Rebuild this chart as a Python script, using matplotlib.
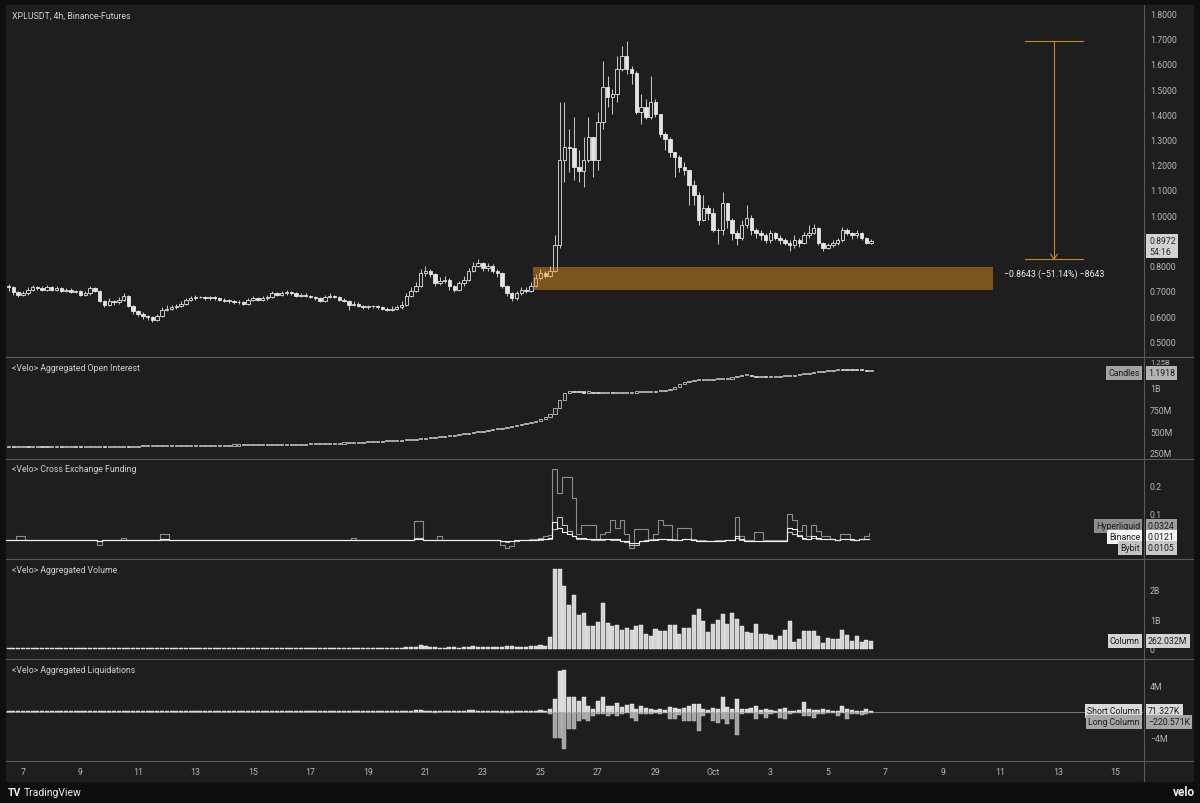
import numpy as np
import matplotlib.pyplot as plt
from matplotlib.patches import Rectangle

plt.rcParams['font.family'] = ['Roboto', 'DejaVu Sans']

# 4h bars, first bar Sep 6 12:00. x axis in days of September (Oct 1 = 31)
first_day = 6.5
bar_step = 1 / 6
first_open = 0.72

closes = [
    0.715, 0.695, 0.685, 0.69, 0.705, 0.715, 0.71, 0.705, 0.715, 0.705, 0.71, 0.70,
    0.705, 0.695, 0.70, 0.685, 0.69, 0.71, 0.70, 0.66, 0.645, 0.66, 0.655, 0.665,
    0.68, 0.64, 0.62, 0.61, 0.60, 0.595, 0.585, 0.60, 0.625, 0.63, 0.635, 0.64,
    0.65, 0.665, 0.67, 0.675, 0.675, 0.67, 0.675, 0.67, 0.665, 0.66, 0.66, 0.655,
    0.655, 0.65, 0.665, 0.67, 0.665, 0.67, 0.675, 0.69, 0.685, 0.69, 0.695, 0.69,
    0.68, 0.685, 0.68, 0.675, 0.67, 0.66, 0.675, 0.68, 0.675, 0.665, 0.66, 0.645,
    0.65, 0.64, 0.635, 0.64, 0.64, 0.635, 0.63, 0.625, 0.63, 0.635, 0.645, 0.68,
    0.70, 0.72, 0.77, 0.78, 0.765, 0.73, 0.74, 0.745, 0.72, 0.705, 0.73, 0.745,
    0.78, 0.80, 0.81, 0.79, 0.80, 0.78, 0.77, 0.72, 0.69, 0.67, 0.69, 0.705,
    0.70, 0.72, 0.75, 0.77, 0.76, 0.78, 0.88, 1.22, 1.27, 1.265, 1.19, 1.175,
    1.22, 1.31, 1.22, 1.37, 1.51, 1.47, 1.48, 1.58, 1.63, 1.58, 1.565, 1.41,
    1.43, 1.39, 1.45, 1.40, 1.32, 1.30, 1.25, 1.23, 1.19, 1.18, 1.12, 1.08,
    0.98, 1.03, 1.01, 0.94, 0.94, 1.05, 0.98, 0.93, 0.91, 0.96, 0.99, 0.94,
    0.93, 0.92, 0.90, 0.93, 0.91, 0.90, 0.89, 0.88, 0.90, 0.89, 0.92, 0.93,
    0.95, 0.89, 0.87, 0.88, 0.89, 0.90, 0.94, 0.93, 0.92, 0.93, 0.91, 0.89,
    0.8972,
]
highs = [
    .728, .72, .70, .70, .715, .725, .72, .72, .725, .72, .718, .715,
    .712, .71, .705, .705, .70, .72, .715, .705, .665, .67, .665, .675,
    .69, .685, .645, .625, .615, .605, .60, .61, .635, .645, .645, .65,
    .66, .67, .68, .685, .68, .68, .68, .68, .675, .67, .668, .665,
    .662, .66, .672, .678, .675, .678, .685, .70, .695, .70, .705, .70,
    .695, .69, .69, .685, .68, .675, .685, .69, .685, .68, .67, .665,
    .66, .655, .645, .645, .645, .645, .64, .635, .64, .645, .66, .69,
    .715, .735, .785, .80, .785, .77, .755, .76, .75, .725, .74, .76,
    .79, .815, .825, .815, .81, .805, .785, .775, .725, .695, .70, .715,
    .715, .735, .765, .785, .78, .80, .92, 1.45, 1.45, 1.34, 1.39, 1.26,
    1.31, 1.39, 1.31, 1.41, 1.61, 1.55, 1.50, 1.63, 1.67, 1.69, 1.59, 1.57,
    1.48, 1.46, 1.55, 1.46, 1.40, 1.33, 1.31, 1.25, 1.24, 1.21, 1.18, 1.14,
    1.09, 1.08, 1.04, 1.03, 0.95, 1.09, 1.05, 0.99, 0.94, 0.98, 1.04, 1.00,
    .95, .94, .93, .94, .935, .92, .91, .90, .92, .91, .935, .96,
    .965, .955, .895, .89, .90, .91, .955, .95, .935, .94, .935, .915,
    .905,
]
lows = [
    .70, .685, .675, .68, .685, .70, .705, .70, .70, .70, .70, .695,
    .695, .69, .69, .68, .68, .685, .695, .655, .635, .64, .645, .65,
    .66, .635, .61, .60, .59, .585, .575, .58, .595, .62, .625, .63,
    .635, .645, .66, .665, .67, .665, .665, .665, .66, .655, .652, .65,
    .648, .645, .645, .66, .66, .66, .665, .67, .68, .68, .685, .685,
    .675, .675, .675, .67, .665, .655, .655, .67, .67, .66, .655, .625,
    .64, .635, .63, .63, .632, .63, .625, .62, .62, .625, .63, .64,
    .675, .695, .715, .76, .755, .72, .725, .73, .705, .695, .70, .72,
    .74, .775, .795, .78, .78, .77, .755, .71, .68, .66, .665, .685,
    .69, .695, .715, .745, .75, .755, .775, .87, 1.13, 1.17, 1.14, 1.13,
    1.11, 1.21, 1.15, 1.18, 1.34, 1.43, 1.40, 1.45, 1.57, 1.56, 1.52, 1.40,
    1.36, 1.38, 1.38, 1.39, 1.31, 1.26, 1.23, 1.15, 1.17, 1.16, 1.04, 1.04,
    0.96, 0.975, 0.98, 0.935, 0.885, 0.92, 0.95, 0.90, 0.88, 0.90, 0.95, 0.92,
    .91, .90, .89, .89, .90, .885, .88, .86, .87, .875, .885, .91,
    .925, .88, .86, .865, .875, .88, .895, .92, .905, .91, .90, .885,
    .885,
]

# aggregated open interest (billions)
oi = [
    .318, .317, .318, .319, .318, .318, .319, .318, .317, .318, .319, .318,
    .318, .319, .318, .317, .318, .319, .320, .321, .320, .321, .322, .322,
    .323, .322, .323, .324, .325, .326, .326, .327, .327, .328, .328, .329,
    .329, .330, .331, .331, .332, .332, .333, .333, .334, .334, .335, .335,
    .336, .337, .337, .338, .339, .339, .340, .341, .341, .342, .343, .344,
    .345, .346, .347, .348, .349, .350, .352, .354, .356, .358, .360, .362,
    .365, .368, .370, .372, .375, .378, .381, .384, .387, .390, .393, .397,
    .401, .406, .412, .418, .423, .428, .433, .440, .447, .455, .463, .470,
    .478, .486, .494, .502, .510, .519, .528, .537, .546, .556, .566, .578,
    .590, .605, .620, .640, .665, .700, .760, .850, .930, .955, .950, .945,
    .940, .940, .935, .930, .935, .935, .930, .930, .935, .935, .940, .945,
    .945, .950, .950, .955, .960, .970, .985, 1.000, 1.040, 1.065, 1.075, 1.080,
    1.080, 1.085, 1.085, 1.090, 1.090, 1.095, 1.100, 1.115, 1.130, 1.140, 1.145, 1.130,
    1.120, 1.120, 1.115, 1.115, 1.120, 1.125, 1.130, 1.130, 1.140, 1.150, 1.155, 1.165,
    1.170, 1.175, 1.185, 1.190, 1.195, 1.200, 1.198, 1.196, 1.195, 1.193, 1.192, 1.190,
    1.1918,
]

# funding rates per exchange
fund_hl = [
    .008, .008, .02, .02, .008, .008, .008, .008, .008, .008, .008, .008,
    .008, .008, .008, .008, .008, .008, .008, -.012, .008, .008, .008, .008,
    .015, .008, .008, .008, .008, .008, .008, .008, .03, .03, .008, .008,
    .008, .008, .008, .008, .008, .008, .008, .008, .008, .008, .008, .008,
    .008, .008, .008, .008, .008, .008, .008, .008, .008, .008, .008, .008,
    .008, .008, .008, .008, .008, .008, .008, .008, .008, .008, .008, .008,
    .015, .008, .008, .008, .008, .008, .008, .008, .008, .008, .008, .008,
    .008, .075, .075, .008, .008, .008, .02, .008, .008, .008, .008, .008,
    .008, .008, .008, .008, .008, .008, .008, -.01, -.02, -.015, .005, .008,
    .008, .012, .01, .015, .02, .025, .26, .175, .23, .23, .157, .03,
    .06, .06, .06, .01, .03, .035, .08, .05, .08, .03, -.02, .045,
    .045, .045, .01, .03, .08, .06, .06, .01, .05, .05, .05, .01,
    .008, .008, .005, .005, .008, .008, .008, .008, .09, .02, .008, .008,
    .035, .035, .006, .006, .006, .006, .006, .10, .08, .04, .06, .02,
    .06, .04, .02, .02, .01, .008, .03, .03, .01, .008, .01, .02,
    .0324,
]
fund_binance = [
    .007, .007, .008, .008, .007, .007, .007, .007, .007, .007, .007, .007,
    .007, .007, .007, .007, .007, .007, .007, .005, .007, .007, .007, .007,
    .008, .007, .007, .007, .007, .007, .007, .007, .009, .009, .007, .007,
    .007, .007, .007, .007, .007, .007, .007, .007, .007, .007, .007, .007,
    .007, .007, .007, .007, .007, .007, .007, .007, .007, .007, .007, .007,
    .007, .007, .007, .007, .007, .007, .007, .007, .007, .007, .007, .007,
    .007, .007, .007, .007, .007, .007, .007, .007, .007, .007, .007, .007,
    .007, .012, .012, .008, .007, .007, .008, .007, .007, .007, .007, .007,
    .007, .007, .007, .007, .007, .007, .007, .004, .002, .003, .006, .007,
    .008, .008, .008, .01, .01, .015, .07, .05, .035, .03, .02, .015,
    .015, .012, .01, .01, .01, .012, .01, .01, .005, .005, -.005, -.005,
    .005, .005, .008, .008, .01, .01, .01, .008, .008, .01, .01, .008,
    .005, .005, .005, .005, .005, .005, .006, .006, .02, .01, .005, .005,
    .005, .005, .005, .005, .005, .005, .005, .05, .045, .02, .015, .01,
    .02, .015, .01, .01, .01, .008, .012, .01, .01, .008, .01, .012,
    .0121,
]
fund_bybit = [
    .006, .006, .007, .007, .006, .006, .006, .006, .006, .006, .006, .006,
    .006, .006, .006, .006, .006, .006, .006, .004, .006, .006, .006, .006,
    .007, .006, .006, .006, .006, .006, .006, .006, .008, .008, .006, .006,
    .006, .006, .006, .006, .006, .006, .006, .006, .006, .006, .006, .006,
    .006, .006, .006, .006, .006, .006, .006, .006, .006, .006, .006, .006,
    .006, .006, .006, .006, .006, .006, .006, .006, .006, .006, .006, .006,
    .006, .006, .006, .006, .006, .006, .006, .006, .006, .006, .006, .006,
    .006, .015, .015, .007, .006, .006, .007, .006, .006, .006, .006, .006,
    .006, .006, .006, .006, .006, .006, .006, .002, .0, .002, .005, .006,
    .008, .008, .008, .008, .01, .012, .045, .09, .06, .04, .02, .012,
    .01, .01, .008, .008, .008, .01, .008, .006, .004, .0, -.01, -.01,
    .005, .008, .008, .01, .012, .01, .008, .008, .008, .01, .01, .008,
    .005, .005, .004, .004, .005, .005, .006, .006, .015, .008, .005, .005,
    .005, .005, .005, .005, .005, .005, .005, .035, .03, .025, .012, .01,
    .015, .012, .01, .01, .01, .008, .01, .01, .008, .008, .01, .01,
    .0105,
]

# aggregated volume (billions)
volume = [
    .03, .02, .02, .02, .02, .03, .02, .02, .02, .02, .02, .02,
    .02, .02, .02, .02, .02, .03, .02, .04, .03, .02, .02, .02,
    .03, .04, .03, .03, .03, .02, .03, .03, .03, .02, .02, .02,
    .02, .02, .02, .02, .02, .02, .02, .02, .02, .02, .02, .02,
    .02, .02, .02, .02, .02, .02, .02, .02, .02, .02, .02, .02,
    .02, .02, .02, .02, .02, .02, .02, .02, .02, .02, .02, .03,
    .03, .03, .03, .03, .03, .03, .03, .03, .03, .03, .04, .06,
    .07, .08, .12, .09, .06, .07, .05, .05, .06, .06, .05, .06,
    .08, .09, .08, .07, .06, .06, .06, .08, .09, .10, .08, .07,
    .08, .11, .09, .14, .11, .40, 2.68, 2.70, 2.11, 1.49, 1.81, 1.16,
    1.22, .77, .77, .90, 1.55, .88, .76, .80, .64, .72, .63, .77,
    .81, .52, .45, .67, .62, .61, .81, .81, .50, .70, .72, 1.15,
    1.33, .94, .58, .85, .98, 1.19, .85, 1.22, 1.02, .76, .58, .53,
    .85, .51, .49, .47, .31, .43, .64, .93, .25, .34, .59, .59,
    .61, .45, .19, .36, .33, .32, .64, .47, .26, .44, .25, .29,
    .262,
]

# aggregated liquidations (millions)
liq_short = [
    .03, .02, .03, .02, .03, .02, .02, .03, .02, .02, .03, .02,
    .02, .03, .02, .03, .02, .05, .03, .08, .04, .03, .02, .03,
    .04, .06, .05, .04, .04, .03, .03, .05, .06, .04, .03, .03,
    .03, .04, .03, .02, .02, .02, .02, .02, .02, .02, .02, .02,
    .02, .02, .03, .02, .02, .02, .02, .03, .02, .02, .02, .02,
    .02, .02, .02, .02, .02, .02, .03, .02, .02, .02, .02, .02,
    .02, .02, .02, .02, .02, .02, .02, .02, .02, .03, .04, .08,
    .15, .20, .30, .15, .10, .10, .08, .10, .06, .05, .10, .12,
    .20, .18, .15, .10, .08, .06, .05, .05, .06, .08, .10, .08,
    .10, .12, .15, .20, .15, .37, 1.94, 6.40, 6.50, 2.35, 2.35, 1.67,
    2.35, .89, .37, 1.67, 2.20, .89, .89, 1.41, .78, .99, 1.15, .37,
    .89, .63, .37, .26, .47, .26, .78, .63, .47, .63, .89, 1.15,
    1.15, .37, .26, .63, .47, 2.35, .78, .47, 1.94, .47, .47, .63,
    .89, .26, .37, .26, .10, .37, .63, .10, .10, .26, 1.52, .47,
    .26, .26, .37, .26, .10, .07, .89, .37, .26, .10, .10, .37,
    .071,
]
liq_long = [
    -.03, -.02, -.03, -.02, -.02, -.03, -.02, -.02, -.03, -.02, -.02, -.02,
    -.02, -.02, -.03, -.02, -.02, -.02, -.03, -.06, -.05, -.03, -.02, -.03,
    -.03, -.07, -.06, -.05, -.05, -.04, -.05, -.03, -.02, -.02, -.02, -.02,
    -.02, -.02, -.02, -.02, -.02, -.02, -.02, -.02, -.02, -.02, -.02, -.02,
    -.02, -.02, -.02, -.02, -.02, -.02, -.02, -.02, -.02, -.02, -.02, -.02,
    -.02, -.02, -.02, -.02, -.02, -.03, -.02, -.02, -.02, -.02, -.03, -.05,
    -.03, -.03, -.03, -.02, -.02, -.02, -.03, -.03, -.02, -.02, -.02, -.02,
    -.03, -.04, -.05, -.06, -.10, -.15, -.08, -.06, -.10, -.12, -.05, -.04,
    -.04, -.04, -.05, -.08, -.06, -.10, -.12, -.20, -.25, -.20, -.08, -.06,
    -.08, -.06, -.05, -.06, -.10, -.42, -4.08, -4.08, -5.90, -2.77, -2.77, -1.46,
    -1.20, -1.46, -.68, -.42, -.42, -.68, -.42, -.68, -.42, -.16, -.94, -1.46,
    -.42, -.42, -.42, -.16, -.42, -.16, -1.20, -1.20, -.58, -1.46, -1.46, -1.46,
    -3.03, -.68, -.16, -1.46, -1.73, -1.20, -1.99, -1.20, -3.71, -.42, -.16, -.16,
    -1.20, -.42, -.94, -.42, -.26, -.94, -1.20, -.42, -.16, -.16, -.68, -.68,
    -.94, -.42, -.42, -.16, -.16, -.68, -.16, -1.10, -.42, -.42, -.58, -.42,
    -.2206,
]

tick_days = [7, 9, 11, 13, 15, 17, 19, 21, 23, 25, 27, 29, 31, 33, 35, 37, 39, 41, 43, 45]
tick_labels = ['7', '9', '11', '13', '15', '17', '19', '21', '23', '25', '27', '29',
               'Oct', '3', '5', '7', '9', '11', '13', '15']
price_ticks = [0.5, 0.6, 0.7, 0.8, 1.0, 1.1, 1.2, 1.3, 1.4, 1.5, 1.6, 1.7, 1.8]

# zone and measure drawn on the price pane
zone_days = (24.74, 40.74)
zone_prices = (0.703, 0.794)
measure_day = 42.86
measure_top = 1.6900
measure_bottom = 0.8257

BG = '#1e1e1e'
FG = '#e4e4e4'
TXT = '#b8b8b8'
GRID = '#5a5a5a'
FS = 6.3

n = len(closes)
x = first_day + bar_step * np.arange(n)
opens = [first_open] + closes[:-1]

fig = plt.figure(figsize=(12, 8.04), dpi=100, facecolor='#0e0e0e')

bg = fig.add_axes([0, 0, 1, 1], zorder=-5)
bg.set_xlim(0, 1200)
bg.set_ylim(804, 0)
bg.axis('off')
bg.add_patch(Rectangle((6, 6), 1187, 776, color=BG))


def pane(y_top, y_bot):
    ax = fig.add_axes([6 / 1200, 1 - y_bot / 804, 1137 / 1200, (y_bot - y_top) / 804])
    ax.set_facecolor(BG)
    for s in ax.spines.values():
        s.set_visible(False)
    ax.set_xlim(6.409, 45.957)
    ax.yaxis.tick_right()
    ax.tick_params(axis='y', length=0, pad=5, labelsize=FS, labelcolor=TXT)
    ax.tick_params(axis='x', length=0, labelbottom=False)
    return ax


def candles(ax, o, h, l, c, width, min_h, lw):
    for xi, oo, hh, ll, cc in zip(x, o, h, l, c):
        up = cc >= oo
        ax.vlines(xi, ll, hh, color=FG, lw=lw, zorder=2)
        body = max(abs(cc - oo), min_h)
        ax.bar(xi, body, bottom=min(oo, cc), width=width, zorder=3,
               facecolor=BG if up else FG, edgecolor=FG, linewidth=lw)


# price pane
ax_p = pane(6, 358)
ax_p.set_ylim(0.438, 1.833)
candles(ax_p, opens, highs, lows, closes, 0.12, 0.002, 0.6)
ax_p.set_yticks(price_ticks)
ax_p.set_yticklabels([f'{v:.4f}' for v in price_ticks])
ax_p.add_patch(Rectangle((zone_days[0], zone_prices[0]), zone_days[1] - zone_days[0],
                         zone_prices[1] - zone_prices[0], facecolor='#f0961e', alpha=0.45,
                         edgecolor='none', zorder=5))
mc = '#c8842e'
ax_p.plot([measure_day, measure_day], [measure_top, measure_bottom], color=mc, lw=0.8)
for yv in (measure_top, measure_bottom):
    ax_p.plot([measure_day - 1.0, measure_day + 1.0], [yv, yv], color=mc, lw=0.8)
ax_p.plot([measure_day - 0.12, measure_day, measure_day + 0.12],
          [measure_bottom + 0.02, measure_bottom, measure_bottom + 0.02], color=mc, lw=0.8)
ax_p.text(measure_day, measure_bottom - 0.055, '\u22120.8643 (\u221251.14%) \u22128643',
          ha='center', va='center', fontsize=FS, color='#f0f0f0')

# open interest
ax_oi = pane(358, 460)
ax_oi.set_ylim(0.181, 1.346)
oi_open = [oi[0]] + oi[:-1]
oi_high = [max(a, b) for a, b in zip(oi_open, oi)]
oi_low = [min(a, b) for a, b in zip(oi_open, oi)]
candles(ax_oi, oi_open, oi_high, oi_low, oi, 0.12, 0.012, 0.5)
ax_oi.set_yticks([0.25, 0.5, 0.75, 1.0, 1.25])
ax_oi.set_yticklabels(['250M', '500M', '750M', '1B', '1.25B'])
# top label sits just under the separator, above the value tag
ax_oi.get_yticklabels()[-1].set_va('bottom')
ax_oi.get_yticklabels()[-1].set_fontsize(5.6)

# funding
ax_f = pane(460, 560)
ax_f.set_ylim(-0.061, 0.296)
xe = x - bar_step / 2
ax_f.step(xe, fund_hl, where='post', color='#8c8c8c', lw=0.8)
ax_f.step(xe, fund_bybit, where='post', color='#bdbdbd', lw=0.8)
ax_f.step(xe, fund_binance, where='post', color='#f2f2f2', lw=0.8)
ax_f.set_yticks([0.1, 0.2])
ax_f.set_yticklabels(['0.1', '0.2'])

# volume
ax_v = pane(560, 660)
ax_v.set_ylim(-0.337, 3.03)
ax_v.bar(x, volume, width=0.14, color='#d4d4d4', edgecolor='#f2f2f2', linewidth=0.3)
ax_v.set_yticks([0, 1, 2])
ax_v.set_yticklabels(['0', '1B', '2B'])

# liquidations
ax_l = pane(660, 762)
ax_l.set_ylim(-7.7, 8.2)
ax_l.axhline(0, color='#8a8a8a', lw=0.6, zorder=1)
ax_l.bar(x, liq_short, width=0.14, color='#d8d8d8', edgecolor='#f0f0f0', linewidth=0.3, zorder=2)
ax_l.bar(x, liq_long, width=0.14, color='#a4a4a4', edgecolor='#c8c8c8', linewidth=0.3, zorder=2)
ax_l.set_yticks([4, -4])
ax_l.set_yticklabels(['4M', '\u22124M'])
ax_l.set_xticks(tick_days)
ax_l.set_xticklabels(tick_labels)
ax_l.tick_params(axis='x', labelbottom=True, length=0, pad=4.5, labelsize=FS, labelcolor=TXT)

# overlay: separators, titles, value tags
ov = fig.add_axes([0, 0, 1, 1], zorder=20)
ov.set_xlim(0, 1200)
ov.set_ylim(804, 0)
ov.axis('off')
ov.patch.set_alpha(0)
for yy in (358, 460, 560, 660, 762):
    ov.plot([6, 1193], [yy, yy], color=GRID, lw=0.8)
ov.plot([1143.5, 1143.5], [6, 782], color=GRID, lw=0.8)

titles = [(16, 'XPLUSDT, 4h, Binance-Futures'),
          (369, '<Velo> Aggregated Open Interest'),
          (470, '<Velo> Cross Exchange Funding'),
          (571, '<Velo> Aggregated Volume'),
          (671, '<Velo> Aggregated Liquidations')]
for yy, s in titles:
    ov.text(12, yy, s, ha='left', va='center', fontsize=FS, color='#d0d0d0')


def tag(xx, yy, s, fc, ha='left', tc='#1c1c1c'):
    ov.text(xx, yy, s, ha=ha, va='center', fontsize=FS, color=tc,
            bbox=dict(boxstyle='square,pad=0.25', fc=fc, ec='none'))


ov.text(1149, 247, '0.8972\n54:16', ha='left', va='center', fontsize=FS, color='#2a2a2a',
        linespacing=1.2, bbox=dict(boxstyle='square,pad=0.3', fc='#d2d2d2', ec='none'))
tag(1140, 374, 'Candles', '#a2a2a2', ha='right')
tag(1148, 374, '1.1918', '#b4b4b4')
tag(1140, 527, 'Hyperliquid', '#8e8e8e', ha='right')
tag(1148, 527, '0.0324', '#9e9e9e')
tag(1140, 538, 'Binance', '#f4f4f4', ha='right')
tag(1148, 538, '0.0121', '#f4f4f4')
tag(1140, 549, 'Bybit', '#c2c2c2', ha='right')
tag(1148, 549, '0.0105', '#c8c8c8')
tag(1140, 642, 'Column', '#d2d2d2', ha='right')
tag(1148, 642, '262.032M', '#d2d2d2')
tag(1140, 712, 'Short Column', '#dadada', ha='right')
tag(1148, 712, '71.327K', '#dadada')
tag(1140, 723, 'Long Column', '#a6a6a6', ha='right')
tag(1148, 723, '\u2212220.571K', '#a6a6a6')

ov.text(8, 793, 'TV', ha='left', va='center', fontsize=7.5, color='#f0f0f0', fontweight='bold')
ov.text(24, 793, 'TradingView', ha='left', va='center', fontsize=7.5, color='#f0f0f0')
ov.text(1195, 793, 'velo', ha='right', va='center', fontsize=8.5, color='#f0f0f0', fontweight='bold')

fig.savefig('out.png', dpi=100, facecolor=fig.get_facecolor())
